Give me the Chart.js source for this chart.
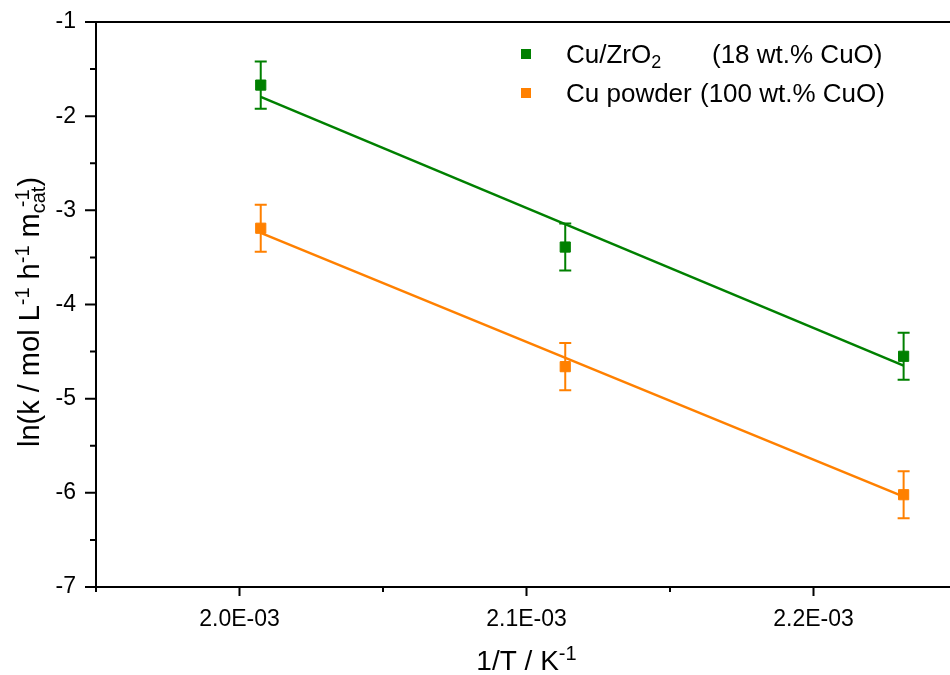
<!DOCTYPE html>
<html>
<head>
<meta charset="utf-8">
<script src="https://cdn.jsdelivr.net/npm/chart.js@4.4.1/dist/chart.umd.min.js"></script>
<style>
  html, body { margin: 0; padding: 0; background: #fff; }
  #wrap { width: 950px; height: 675px; overflow: hidden; position: relative; }
  canvas { display: block; }
</style>
</head>
<body>
<div id="wrap"><canvas id="arrhenius" width="980" height="675"></canvas></div>
<script>
// Arrhenius plot: ln(k) vs 1/T for the two Cu catalysts

const invT = [2.0074e-3, 2.1135e-3, 2.2314e-3];          // 1/T, K^-1
const lnkCuZr = [-1.67, -3.39, -4.55];                    // Cu/ZrO2 (18 wt.% CuO)
const errCuZr = [0.25, 0.25, 0.25];
const lnkCuPowder = [-3.19, -4.66, -6.02];                // Cu powder (100 wt.% CuO)
const errCuPowder = [0.25, 0.25, 0.25];

// linear fit end points (at first and last temperature)
const fitX = [invT[0], invT[2]];
const fitCuZr = [-1.795, -4.65];
const fitCuPowder = [-3.24, -6.04];

const xRange = [1.95e-3, 2.25e-3];
const yRange = [-7, -1];

const GREEN = '#008000';
const ORANGE = '#ff8000';
const FONT = '"Liberation Sans", Arial, sans-serif';

const toXY = (xs, ys) => xs.map((x, i) => ({ x: x, y: ys[i] }));

function isMajorX(v) { return Math.round(v * 1e5) % 10 === 0; }
function isMajorY(v) { return Math.abs(v - Math.round(v)) < 1e-6; }

// draws text made of plain / superscript / subscript pieces
function richText(ctx, parts, x, y, size, align) {
  const small = Math.round(size * 0.7);
  const pieces = parts.map(p => {
    ctx.font = (p.sup || p.sub ? small : size) + 'px ' + FONT;
    return Object.assign({ w: ctx.measureText(p.t).width }, p);
  });
  let total = 0;
  pieces.forEach(p => { if (!p.stack) total += p.w; });
  let cx = align === 'center' ? x - total / 2 : x;
  let lastSub = null;
  pieces.forEach(p => {
    ctx.font = (p.sup || p.sub ? small : size) + 'px ' + FONT;
    let dy = 0;
    if (p.sup) dy = -size * 0.36;
    if (p.sub) dy = size * 0.2;
    if (p.stack && lastSub !== null) {
      ctx.fillText(p.t, lastSub + 6, y + dy);
      return;
    }
    ctx.fillText(p.t, cx, y + dy);
    if (p.sub) lastSub = cx;
    cx += p.w;
  });
}

const decorations = {
  id: 'decorations',
  afterDraw(chart) {
    const ctx = chart.ctx;
    const area = chart.chartArea;
    const xs = chart.scales.x;
    const ys = chart.scales.y;
    ctx.save();

    // frame
    ctx.strokeStyle = '#000';
    ctx.lineWidth = 2;
    ctx.strokeRect(area.left, area.top, area.right - area.left, area.bottom - area.top);

    // outward ticks, long for major, short for minor
    ctx.beginPath();
    xs.ticks.forEach(t => {
      const px = xs.getPixelForValue(t.value);
      const len = isMajorX(t.value) ? 9 : 5;
      ctx.moveTo(px, area.bottom);
      ctx.lineTo(px, area.bottom + len);
    });
    ys.ticks.forEach(t => {
      const py = ys.getPixelForValue(t.value);
      const len = isMajorY(t.value) ? 11 : 6;
      ctx.moveTo(area.left, py);
      ctx.lineTo(area.left - len, py);
    });
    ctx.stroke();

    // axis titles
    ctx.fillStyle = '#000';
    ctx.textBaseline = 'alphabetic';
    richText(ctx, [{ t: '1/T / K' }, { t: '-1', sup: true }],
      xs.getPixelForValue((xRange[0] + xRange[1]) / 2), 670, 28, 'center');

    ctx.save();
    ctx.translate(39, 312);
    ctx.rotate(-Math.PI / 2);
    richText(ctx, [
      { t: 'ln(k / mol L' }, { t: '-1', sup: true },
      { t: ' h' }, { t: '-1', sup: true },
      { t: ' m' }, { t: 'cat', sub: true }, { t: '-1', sup: true, stack: true },
      { t: ')' }
    ], 0, 0, 29, 'center');
    ctx.restore();

    // legend
    const rows = [
      { color: GREEN, y: 54, parts: [{ t: 'Cu/ZrO' }, { t: '2', sub: true }], note: '(18 wt.% CuO)', noteX: 712 },
      { color: ORANGE, y: 93, parts: [{ t: 'Cu powder' }], note: '(100 wt.% CuO)', noteX: 700 }
    ];
    rows.forEach(r => {
      ctx.fillStyle = r.color;
      ctx.fillRect(521, r.y - 5, 10, 10);
      ctx.fillStyle = '#000';
      richText(ctx, r.parts, 566, r.y + 9, 26, 'left');
      ctx.font = '26px ' + FONT;
      ctx.fillText(r.note, r.noteX, r.y + 9);
    });
    ctx.restore();
  },
  afterDatasetsDraw(chart) {
    // vertical error bars with caps
    const ctx = chart.ctx;
    const xs = chart.scales.x;
    const ys = chart.scales.y;
    const sets = [
      { ys: lnkCuZr, err: errCuZr, color: GREEN },
      { ys: lnkCuPowder, err: errCuPowder, color: ORANGE }
    ];
    ctx.save();
    ctx.lineWidth = 2;
    sets.forEach(s => {
      ctx.strokeStyle = s.color;
      ctx.beginPath();
      invT.forEach((x, i) => {
        const px = xs.getPixelForValue(x);
        const top = ys.getPixelForValue(s.ys[i] + s.err[i]);
        const bot = ys.getPixelForValue(s.ys[i] - s.err[i]);
        ctx.moveTo(px, top); ctx.lineTo(px, bot);
        ctx.moveTo(px - 6, top); ctx.lineTo(px + 6, top);
        ctx.moveTo(px - 6, bot); ctx.lineTo(px + 6, bot);
      });
      ctx.stroke();
    });
    ctx.restore();
  }
};

new Chart(document.getElementById('arrhenius'), {
  type: 'scatter',
  data: {
    datasets: [
      {
        label: 'Cu/ZrO2 (18 wt.% CuO)',
        data: toXY(invT, lnkCuZr),
        backgroundColor: GREEN, borderColor: GREEN,
        pointStyle: 'rect', pointRadius: 7.2, borderWidth: 1,
      },
      {
        label: 'Cu powder (100 wt.% CuO)',
        data: toXY(invT, lnkCuPowder),
        backgroundColor: ORANGE, borderColor: ORANGE,
        pointStyle: 'rect', pointRadius: 7.2, borderWidth: 1,
      },
      {
        label: 'fit Cu/ZrO2',
        data: toXY(fitX, fitCuZr),
        showLine: true, borderColor: GREEN, borderWidth: 2.5, pointRadius: 0,
      },
      {
        label: 'fit Cu powder',
        data: toXY(fitX, fitCuPowder),
        showLine: true, borderColor: ORANGE, borderWidth: 2.5, pointRadius: 0,
      },
    ],
  },
  options: {
    responsive: false,
    animation: false,
    layout: { padding: { left: 0, top: 22, right: 23, bottom: 0 } },
    plugins: { legend: { display: false }, tooltip: { enabled: false } },
    scales: {
      x: {
        type: 'linear',
        min: xRange[0], max: xRange[1],
        grid: { display: false },
        border: { display: false },
        ticks: {
          stepSize: 0.5e-4,
          autoSkip: false,
          maxRotation: 0,
          padding: 11,
          color: '#000',
          font: { family: FONT, size: 23 },
          callback: v => isMajorX(v) ? (v * 1e3).toFixed(1) + 'E-03' : '',
        },
        afterFit: s => { s.height = 88; s.paddingLeft = 0; s.paddingRight = 0; },
      },
      y: {
        min: yRange[0], max: yRange[1],
        grid: { display: false },
        border: { display: false },
        ticks: {
          stepSize: 0.5,
          autoSkip: false,
          padding: 12,
          color: '#000',
          font: { family: FONT, size: 23 },
          callback: v => isMajorY(v) ? String(Math.round(v)) : '',
        },
        afterFit: s => { s.width = 96; s.paddingTop = 0; s.paddingBottom = 0; },
      },
    },
  },
  plugins: [decorations],
});
</script>
</body>
</html>
